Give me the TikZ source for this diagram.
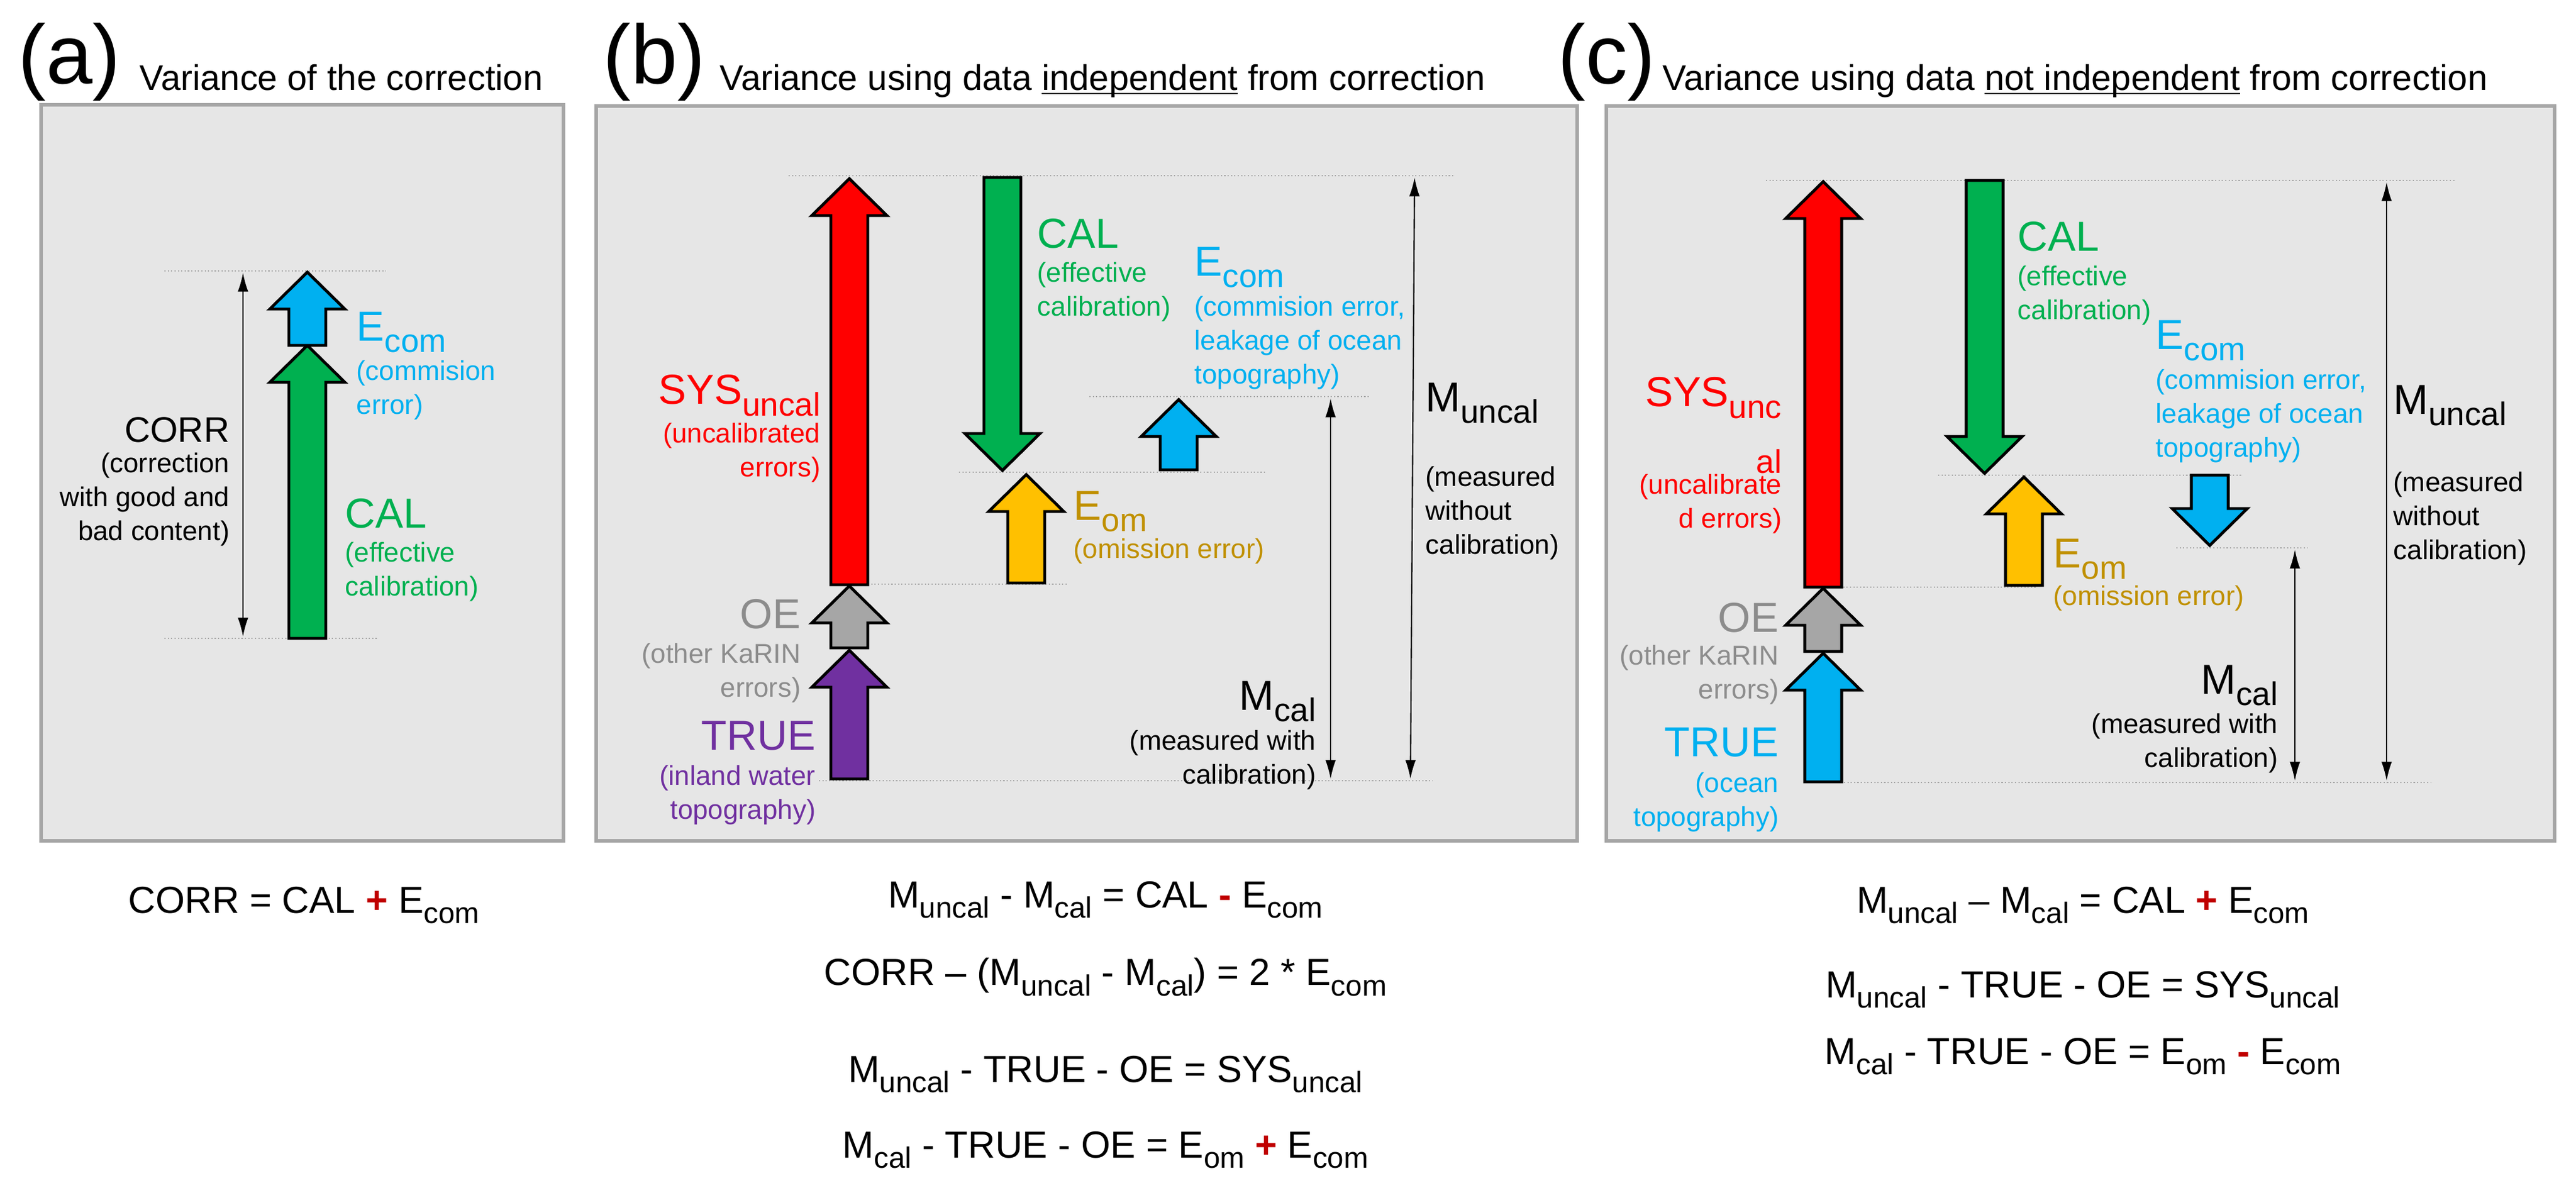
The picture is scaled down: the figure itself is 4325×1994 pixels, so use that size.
\documentclass[tikz,border=0pt]{standalone}
\usepackage{fontspec}
\setmainfont{Liberation Sans}
\usetikzlibrary{arrows.meta,positioning}

\definecolor{calgreen}{HTML}{00B050}
\definecolor{comblue}{HTML}{00B0F0}
\definecolor{omyellow}{HTML}{FFC000}
\definecolor{omtext}{HTML}{C09000}
\definecolor{oegrey}{HTML}{A6A6A6}
\definecolor{oetext}{HTML}{8C8C8C}
\definecolor{truepurple}{HTML}{7030A0}
\definecolor{panelbg}{HTML}{E6E6E6}
\definecolor{signred}{HTML}{C00000}

\newcommand{\lowsub}[1]{\raisebox{-0.28em}{\scalebox{0.78}{#1}}}
\newcommand{\bigsign}[1]{{\color{signred}\bfseries #1}}
\newcommand{\tightul}[1]{\underline{\smash{#1}}}
% fat arrow: colour, centre x, tail y, tip y, head sign (+1 up, -1 down)
\newcommand{\fatarrow}[5]{%
  \draw[fill=#1, line width=1.4pt, line join=miter]
    (#2-31,#3) -- (#2-31,#4+62*#5) -- (#2-63,#4+62*#5) -- (#2,#4)
    -- (#2+63,#4+62*#5) -- (#2+31,#4+62*#5) -- (#2+31,#3) -- cycle;}

\tikzset{
  panel/.style={fill=panelbg, draw=oegrey, line width=1.8pt},
  level/.style={densely dotted, draw=gray!70, line width=0.6pt},
  span/.style={{Latex[length=9pt,width=5pt]}-{Latex[length=9pt,width=5pt]}, line width=0.6pt},
  big/.style={font=\fontsize{20}{22}\selectfont, inner sep=0pt},
  small/.style={font=\fontsize{13}{16.2}\selectfont, inner sep=0pt, align=#1},
  small/.default=left,
  eqn/.style={font=\fontsize{18}{20}\selectfont, inner sep=0pt},
  title/.style={font=\fontsize{17}{19}\selectfont, inner sep=0pt, anchor=base west},
  letter/.style={font=\fontsize{40}{44}\selectfont, inner sep=0pt, anchor=base west}
}

\begin{document}
\begin{tikzpicture}[x=0.01cm, y=-0.01cm]
\useasboundingbox (0,0) rectangle (4325,1994);

%panels and titles
\fill[panel] (69,176) rectangle (946,1412);
\fill[panel] (1001,178) rectangle (2648,1412);
\fill[panel] (2697,178) rectangle (4289,1412);
\node[letter] (la) at (30,140) {(a)};
\node[title] (ta) at (234,152) {Variance of the correction};
\node[letter] (lb) at (1012,140) {(b)};
\node[title] (tb) at (1208,152) {Variance using data \tightul{independent} from correction};
\node[letter] (lc) at (2615,140) {(c)};
\node[title] (tc) at (2791,152) {Variance using data \tightul{not independent} from correction};

%panel (a)
\draw[level] (276,455) -- (648,455);
\draw[level] (276,1072) -- (634,1072);
\coordinate (aTop) at (408,458);
\coordinate (aBot) at (408,1069);
\draw[span] (aTop) -- (aBot);
\fatarrow{calgreen}{516}{1072}{580}{1}
\fatarrow{comblue}{516}{580}{457}{1}
\node[big, anchor=west, text=comblue] (aEcom) at (598,558) {E\lowsub{com}};
\node[small, anchor=north west, text=comblue] (aEcomT) at (598,605) {(commision\\error)};
\node[big, anchor=west, text=calgreen] (aCal) at (579,862) {CAL};
\node[small, anchor=north west, text=calgreen] (aCalT) at (579,910) {(effective\\calibration)};
\node[font=\fontsize{17}{19}\selectfont, inner sep=0pt, anchor=east] (aCorr) at (386,722) {CORR};
\node[small=right, anchor=north east] (aCorrT) at (386,760) {(correction\\with good and\\bad content)};

%panel (b)
\draw[level] (1324,295) -- (2441,295);
\draw[level] (1375,1311) -- (2406,1311);
\draw[level] (1457,981) -- (1794,981);
\draw[level] (1610,793) -- (2125,793);
\draw[level] (1829,666) -- (2299,666);
\fatarrow{red}{1426}{982}{300}{1}
\fatarrow{oegrey}{1426}{1088}{984}{1}
\fatarrow{truepurple}{1426}{1308}{1092}{1}
\fatarrow{calgreen}{1683}{298}{790}{-1}
\fatarrow{omyellow}{1723}{979}{797}{1}
\fatarrow{comblue}{1979}{789}{671}{1}
\coordinate (bMcalTop) at (2234,669);
\coordinate (bMcalBot) at (2234,1308);
\draw[span] (bMcalTop) -- (bMcalBot);
\coordinate (bMuncTop) at (2375,298);
\coordinate (bMuncBot) at (2368,1308);
\draw[span] (bMuncTop) -- (bMuncBot);
\node[big, anchor=west, text=calgreen] (bCal) at (1741,392) {CAL};
\node[small, anchor=north west, text=calgreen] (bCalT) at (1741,440) {(effective\\calibration)};
\node[big, anchor=west, text=comblue] (bEcom) at (2005,449) {E\lowsub{com}};
\node[small, anchor=north west, text=comblue] (bEcomT) at (2005,497) {(commision error,\\leakage of ocean\\topography)};
\node[big, anchor=east, text=red] (bSys) at (1378,664) {SYS\lowsub{uncal}};
\node[small=right, anchor=north east, text=red] (bSysT) at (1378,710) {(uncalibrated\\errors)};
\node[big, anchor=west, text=omtext] (bEom) at (1802,859) {E\lowsub{om}};
\node[small, anchor=north west, text=omtext] (bEomT) at (1802,904) {(omission error)};
\node[big, anchor=east, text=oetext] (bOe) at (1345,1031) {OE};
\node[small=right, anchor=north east, text=oetext] (bOeT) at (1345,1080) {(other KaRIN\\errors)};
\node[big, anchor=east, text=truepurple] (bTrue) at (1370,1236) {TRUE};
\node[small=right, anchor=north east, text=truepurple] (bTrueT) at (1370,1285) {(inland water\\topography)};
\node[big, anchor=east] (bMcal) at (2210,1178) {M\lowsub{cal}};
\node[small=right, anchor=north east] (bMcalT) at (2210,1226) {(measured with\\calibration)};
\node[big, anchor=west] (bMunc) at (2393,677) {M\lowsub{uncal}};
\node[small, anchor=north west] (bMuncT) at (2393,783) {(measured\\without\\calibration)};

%panel (c)
\draw[level] (2965,303) -- (4123,303);
\draw[level] (3034,1314) -- (4082,1314);
\draw[level] (3089,986) -- (3420,986);
\draw[level] (3254,798) -- (3765,798);
\draw[level] (3654,920) -- (3875,920);
\fatarrow{red}{3061}{986}{305}{1}
\fatarrow{oegrey}{3061}{1094}{988}{1}
\fatarrow{comblue}{3061}{1313}{1097}{1}
\fatarrow{calgreen}{3332}{303}{795}{-1}
\fatarrow{omyellow}{3398}{983}{801}{1}
\fatarrow{comblue}{3710}{798}{916}{-1}
\coordinate (cMcalTop) at (3853,923);
\coordinate (cMcalBot) at (3853,1311);
\draw[span] (cMcalTop) -- (cMcalBot);
\coordinate (cMuncTop) at (4007,306);
\coordinate (cMuncBot) at (4007,1311);
\draw[span] (cMuncTop) -- (cMuncBot);
\node[big, anchor=west, text=calgreen] (cCal) at (3387,397) {CAL};
\node[small, anchor=north west, text=calgreen] (cCalT) at (3387,446) {(effective\\calibration)};
\node[big, anchor=west, text=comblue] (cEcom) at (3619,572) {E\lowsub{com}};
\node[small, anchor=north west, text=comblue] (cEcomT) at (3619,620) {(commision error,\\leakage of ocean\\topography)};
\node[big, anchor=east, text=red] (cSys) at (2992,668) {SYS\lowsub{unc}};
\node[big, anchor=east, text=red] (cSys2) at (2992,775) {\lowsub{al}};
\node[small=right, anchor=north east, text=red] (cSysT) at (2992,796) {(uncalibrate\\d errors)};
\node[big, anchor=west, text=omtext] (cEom) at (3447,939) {E\lowsub{om}};
\node[small, anchor=north west, text=omtext] (cEomT) at (3447,983) {(omission error)};
\node[big, anchor=east, text=oetext] (cOe) at (2987,1037) {OE};
\node[small=right, anchor=north east, text=oetext] (cOeT) at (2987,1083) {(other KaRIN\\errors)};
\node[big, anchor=east, text=comblue] (cTrue) at (2987,1247) {TRUE};
\node[small=right, anchor=north east, text=comblue] (cTrueT) at (2987,1297) {(ocean\\topography)};
\node[big, anchor=east] (cMcal) at (3825,1151) {M\lowsub{cal}};
\node[small=right, anchor=north east] (cMcalT) at (3825,1198) {(measured with\\calibration)};
\node[big, anchor=west] (cMunc) at (4018,681) {M\lowsub{uncal}};
\node[small, anchor=north west] (cMuncT) at (4018,792) {(measured\\without\\calibration)};

%equations
\node[eqn] (eqA) at (510,1520) {CORR = CAL \bigsign{+} E\lowsub{com}};
\node[eqn] (eqB1) at (1856,1511) {M\lowsub{uncal} - M\lowsub{cal} = CAL \bigsign{-} E\lowsub{com}};
\node[eqn] (eqB2) at (1856,1641) {CORR -- (M\lowsub{uncal} - M\lowsub{cal}) = 2 * E\lowsub{com}};
\node[eqn] (eqB3) at (1856,1804) {M\lowsub{uncal} - TRUE - OE = SYS\lowsub{uncal}};
\node[eqn] (eqB4) at (1856,1931) {M\lowsub{cal} - TRUE - OE = E\lowsub{om} \bigsign{+} E\lowsub{com}};
\node[eqn] (eqC1) at (3497,1520) {M\lowsub{uncal} -- M\lowsub{cal} = CAL \bigsign{+} E\lowsub{com}};
\node[eqn] (eqC2) at (3497,1662) {M\lowsub{uncal} - TRUE - OE = SYS\lowsub{uncal}};
\node[eqn] (eqC3) at (3497,1774) {M\lowsub{cal} - TRUE - OE = E\lowsub{om} \bigsign{-} E\lowsub{com}};
\end{tikzpicture}
\end{document}
